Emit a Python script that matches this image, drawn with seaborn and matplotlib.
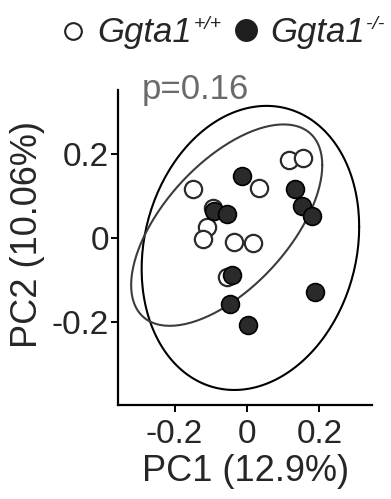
import numpy as np
import pandas as pd
import matplotlib
matplotlib.use('Agg')
import matplotlib.pyplot as plt
import seaborn as sns

# PCA scores
wt_pc1 = [-0.148, 0.034, 0.116, 0.156, -0.110, -0.122, -0.035, 0.017, -0.056, -0.094]
wt_pc2 = [0.115, 0.119, 0.185, 0.190, 0.025, -0.003, -0.010, -0.013, -0.092, 0.070]
ko_pc1 = [-0.013, 0.134, 0.152, 0.179, -0.090, -0.056, -0.042, -0.047, 0.004, 0.188]
ko_pc2 = [0.147, 0.115, 0.076, 0.051, 0.064, 0.056, -0.088, -0.156, -0.205, -0.127]

# ellipse params: center x, center y, var x, var y, cov xy
wt_ellipse = [-0.056, 0.0305, 0.0697, 0.0569, 0.0375]
ko_ellipse = [0.0095, -0.0235, 0.0903, 0.1132, 0.0150]

x_ticks = [-0.2, 0, 0.2]
y_ticks = [-0.2, 0, 0.2]
tick_labels = ['-0.2', '0', '0.2']
p_label = 'p=0.16'
gene = 'Ggta1'
genotypes = ['+/+', '-/-']

sns.set_style('ticks')
plt.rcParams['font.family'] = ['Liberation Sans', 'DejaVu Sans']

df = pd.DataFrame({
    'PC1': wt_pc1 + ko_pc1,
    'PC2': wt_pc2 + ko_pc2,
    'group': ['WT'] * len(wt_pc1) + ['KO'] * len(ko_pc1),
})

W, H = 391, 499
fig = plt.figure(figsize=(W / 100, H / 100), dpi=100)
ax = fig.add_axes([0.303, 0.188, 0.648, 0.632])


def ellipse_xy(par, n=200):
    cx, cy, vx, vy, cxy = par
    L = np.linalg.cholesky(np.array([[vx, cxy], [cxy, vy]]))
    t = np.linspace(0, 2 * np.pi, n)
    pts = L @ np.vstack([np.cos(t), np.sin(t)])
    return cx + pts[0], cy + pts[1]


ex, ey = ellipse_xy(ko_ellipse)
ax.plot(ex, ey, color='black', lw=1.5, zorder=1)
ex, ey = ellipse_xy(wt_ellipse)
ax.plot(ex, ey, color='#3c3c3c', lw=1.5, zorder=1)

sns.scatterplot(data=df[df.group == 'WT'], x='PC1', y='PC2', ax=ax,
                color='white', edgecolor='#2b2b2b', linewidth=1.6, s=155, zorder=2)
sns.scatterplot(data=df[df.group == 'KO'], x='PC1', y='PC2', ax=ax,
                color='#2a2a2a', edgecolor='black', linewidth=1.2, s=165, zorder=3)

ax.set_xlim(-0.355, 0.345)
ax.set_ylim(-0.396, 0.351)
ax.set_xticks(x_ticks)
ax.set_xticklabels(tick_labels)
ax.set_yticks(y_ticks)
ax.set_yticklabels(tick_labels)
ax.tick_params(axis='both', labelsize=24, length=5, width=1.4, color='black')
ax.tick_params(axis='x', pad=5)
ax.tick_params(axis='y', pad=2)
for s in ['top', 'right']:
    ax.spines[s].set_visible(False)
for s in ['left', 'bottom']:
    ax.spines[s].set_linewidth(1.6)
    ax.spines[s].set_color('black')

ax.set_xlabel('PC1 (12.9%)', fontsize=26, labelpad=3)
ax.set_ylabel('PC2 (10.06%)', fontsize=26)
ax.yaxis.set_label_coords(-0.29, 0.54)

ax.text(0.092, 0.971, p_label, transform=ax.transAxes, fontsize=25,
        color='#6a6a6a', va='baseline', ha='left')

# legend row drawn on a pixel-space overlay
lg = fig.add_axes([0, 0, 1, 1], facecolor='none')
lg.set_xlim(0, W)
lg.set_ylim(H, 0)
lg.axis('off')
lg.plot([73], [31], marker='o', ms=12, mfc='white', mec='#222222', mew=1.5, ls='')
lg.plot([246], [30], marker='o', ms=15.5, mfc='#1e1e1e', mec='#1e1e1e', ls='')
for x0, sup_x, g in [(97, 194, genotypes[0]), (270, 366, genotypes[1])]:
    lg.text(x0, 42, gene, fontsize=25, style='italic', va='baseline', ha='left')
    lg.text(sup_x, 29, g, fontsize=14, style='italic', va='baseline', ha='left')

fig.savefig('out.png', dpi=100)
